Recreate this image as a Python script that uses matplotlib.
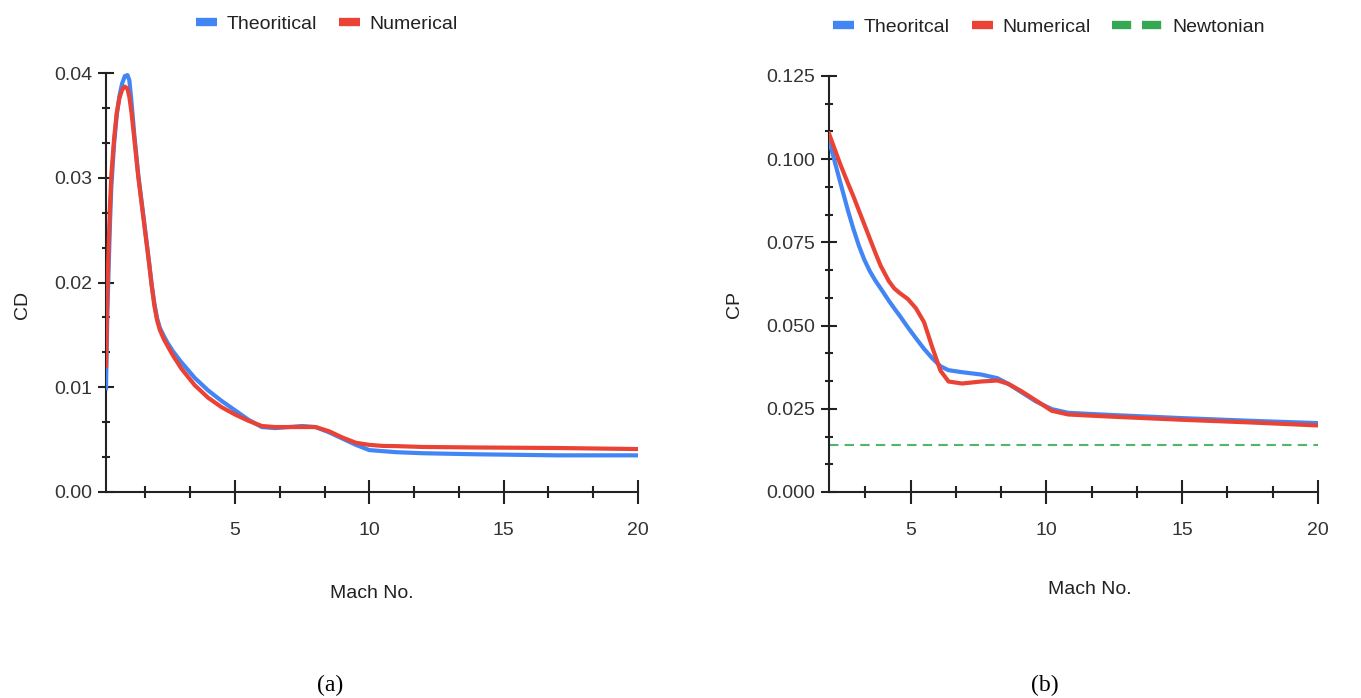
import matplotlib.pyplot as plt
from matplotlib.lines import Line2D
from matplotlib.ticker import MultipleLocator, FixedLocator, FormatStrFormatter

plt.rcParams['font.family'] = ['Liberation Sans', 'DejaVu Sans']

BLUE = '#4285F4'
RED = '#EA4335'
GREEN = '#34A853'
FS = 14

# --- (a) drag coefficient ---
mach_a = [0.2, 0.25, 0.3, 0.35, 0.4, 0.5, 0.6, 0.7, 0.8, 0.9, 1.0, 1.07, 1.15, 1.25,
          1.4, 1.6, 1.8, 1.9, 2.0, 2.1, 2.2, 2.35, 2.5, 2.7, 3.0, 3.5, 4.0, 4.5, 5.0,
          5.5, 6.0, 6.5, 7.0, 7.5, 8.0, 8.5, 9.0, 9.5, 10.0, 10.5, 11.0, 12.0, 14.0,
          17.0, 20.0]
cd_theory = [0.0099, 0.0170, 0.0215, 0.0258, 0.0292, 0.0332, 0.0360, 0.0378, 0.0390,
             0.0397, 0.0398, 0.0393, 0.0372, 0.0342, 0.0303, 0.0262, 0.0220, 0.0198,
             0.0180, 0.0166, 0.0157, 0.0149, 0.0142, 0.0134, 0.0124, 0.0109, 0.0097,
             0.0087, 0.0078, 0.0069, 0.0062, 0.0061, 0.0062, 0.0063, 0.0062, 0.0057,
             0.0051, 0.0045, 0.0040, 0.0039, 0.0038, 0.0037, 0.0036, 0.0035, 0.0035]
cd_numeric = [0.0120, 0.0190, 0.0235, 0.0275, 0.0303, 0.0337, 0.0362, 0.0376, 0.0384,
              0.0387, 0.0385, 0.0377, 0.0362, 0.0338, 0.0301, 0.0260, 0.0219, 0.0197,
              0.0178, 0.0164, 0.0155, 0.0146, 0.0139, 0.0130, 0.0118, 0.0102, 0.0090,
              0.0081, 0.0074, 0.0068, 0.0063, 0.0062, 0.0062, 0.0062, 0.0062, 0.0058,
              0.0052, 0.0047, 0.0045, 0.0044, 0.00438, 0.0043, 0.00425, 0.0042, 0.0041]

# --- (b) pressure coefficient ---
mach_b = [2.0, 2.4, 2.7, 2.9, 3.1, 3.3, 3.5, 3.7, 3.9, 4.2, 4.4, 4.6, 4.9, 5.2, 5.5,
          5.8, 6.1, 6.4, 6.9, 7.6, 8.2, 8.6, 9.1, 9.6, 10.2, 10.8, 11.5, 12.5, 15.0,
          17.5, 20.0]
cp_theory = [0.1057, 0.0935, 0.0845, 0.0790, 0.0740, 0.0698, 0.0664, 0.0636, 0.0612,
             0.0575, 0.0552, 0.0530, 0.0495, 0.0462, 0.0430, 0.0402, 0.0378, 0.0366,
             0.0360, 0.0353, 0.0342, 0.0325, 0.0299, 0.0273, 0.0249, 0.0238, 0.0235,
             0.0231, 0.0222, 0.0214, 0.0207]
cp_numeric = [0.1077, 0.0988, 0.0927, 0.0888, 0.0846, 0.0804, 0.0762, 0.0720, 0.0680,
              0.0634, 0.0612, 0.0598, 0.0580, 0.0552, 0.0510, 0.0435, 0.0365, 0.0332,
              0.0326, 0.0332, 0.0335, 0.0325, 0.0302, 0.0276, 0.0244, 0.0233, 0.0230,
              0.0226, 0.0217, 0.0209, 0.0200]
cp_newtonian = 0.0141

x_major = [5, 10, 15, 20]
x_minor = [5 / 3 * k for k in range(1, 12) if k % 3 != 0]

W, H = 1361, 698
fig = plt.figure(figsize=(W / 100, H / 100), dpi=100)


def frac(px_l, px_r, py_t, py_b):
    return [px_l / W, 1 - py_b / H, (px_r - px_l) / W, (py_b - py_t) / H]


def style_axis(ax, ymax, ystep, yfmt):
    for s in ['top', 'right']:
        ax.spines[s].set_visible(False)
    for s in ['left', 'bottom']:
        ax.spines[s].set_linewidth(1.5)
        ax.spines[s].set_color('#222222')
    ax.set_ylim(0, ymax)
    ax.xaxis.set_major_locator(FixedLocator(x_major))
    ax.xaxis.set_minor_locator(FixedLocator(x_minor))
    ax.yaxis.set_major_locator(MultipleLocator(ystep))
    ax.yaxis.set_minor_locator(MultipleLocator(ystep / 3))
    ax.yaxis.set_major_formatter(FormatStrFormatter(yfmt))
    ax.tick_params(axis='x', which='major', direction='inout', length=17, width=1.5,
                   pad=13, labelsize=FS, color='#222222', labelcolor='#333333')
    ax.tick_params(axis='x', which='minor', direction='inout', length=9, width=1.5,
                   color='#222222')
    ax.tick_params(axis='y', which='major', direction='inout', length=11.5, width=1.5,
                   pad=4, labelsize=FS, color='#222222', labelcolor='#333333')
    ax.tick_params(axis='y', which='minor', direction='inout', length=6, width=1.5,
                   color='#222222')


# (a)
ax1 = fig.add_axes(frac(106, 638, 73, 492))
ax1.plot(mach_a, cd_theory, color=BLUE, lw=3, zorder=3, solid_joinstyle='round')
ax1.plot(mach_a, cd_numeric, color=RED, lw=3, zorder=4, solid_joinstyle='round')
ax1.set_xlim(0.2, 20)
style_axis(ax1, 0.04, 0.01, '%.2f')
ax1.set_xlabel('Mach No.', fontsize=FS, color='#222222', va='center')
ax1.xaxis.set_label_coords(0.5, (492 - 593) / 419)
ax1.set_ylabel('CD', fontsize=FS, color='#222222', va='center')
ax1.yaxis.set_label_coords((22 - 106) / 532, (492 - 305) / 419)

# (b)
ax2 = fig.add_axes(frac(829, 1318, 76, 492))
ax2.plot(mach_b, cp_theory, color=BLUE, lw=3, zorder=3, solid_joinstyle='round')
ax2.plot(mach_b, cp_numeric, color=RED, lw=3, zorder=4, solid_joinstyle='round')
ax2.axhline(cp_newtonian, color=GREEN, lw=1.5, dashes=(4.5, 3), alpha=0.85, zorder=2)
ax2.set_xlim(2, 20)
style_axis(ax2, 0.125, 0.025, '%.3f')
ax2.set_xlabel('Mach No.', fontsize=FS, color='#222222', va='center')
ax2.xaxis.set_label_coords((1090 - 829) / 489, (492 - 590) / 416)
ax2.set_ylabel('CP', fontsize=FS, color='#222222', va='center')
ax2.yaxis.set_label_coords((735 - 829) / 489, (492 - 305) / 416)


# legends
def swatch(c, **kw):
    return Line2D([], [], color=c, lw=6, solid_capstyle='butt', dash_capstyle='butt', **kw)


leg_kw = dict(frameon=False, fontsize=FS, handletextpad=0.5, columnspacing=1.1,
              labelcolor='#222222', borderpad=0, borderaxespad=0)
fig.legend([swatch(BLUE), swatch(RED)], ['Theoritical', 'Numerical'],
           loc='center', bbox_to_anchor=(327 / W, 1 - 24 / H), ncol=2,
           handlelength=1.1, **leg_kw)
fig.legend([swatch(BLUE), swatch(RED)], ['Theoritcal', 'Numerical'],
           loc='center left', bbox_to_anchor=(833 / W, 1 - 27 / H), ncol=2,
           handlelength=1.1, **leg_kw)
fig.legend([swatch(GREEN, dashes=(2.3, 1.3))], ['Newtonian'],
           loc='center left', bbox_to_anchor=(1112 / W, 1 - 27 / H), ncol=1,
           handlelength=2.6, **leg_kw)

fig.text(330 / W, 1 - 685 / H, '(a)', fontsize=17, family='Liberation Serif',
         ha='center', va='center')
fig.text(1045 / W, 1 - 685 / H, '(b)', fontsize=17, family='Liberation Serif',
         ha='center', va='center')

fig.savefig('out.png', dpi=100)
